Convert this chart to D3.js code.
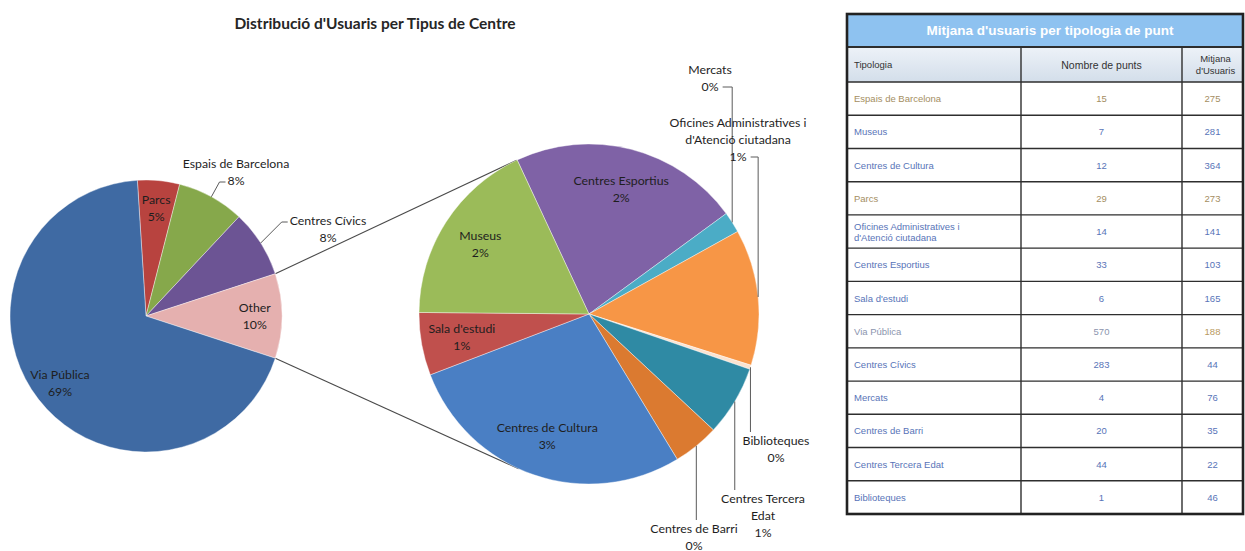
<!DOCTYPE html>
<meta charset="utf-8">
<style>
body { margin: 0; background: #fff; }
svg { display: block; background: #fff; }
text { font-family: Lato, "Open Sans", sans-serif; }
.lbl { font-size: 12.3px; fill: #1e1e1e; }
.title { font-size: 15.5px; font-weight: bold; fill: #262626; }
.tbl text { font-family: "Liberation Sans", Arial, sans-serif; font-size: 9.5px; }
</style>
<svg width="1245" height="551"></svg>
<script src="https://d3js.org/d3.v7.min.js"></script>
<script>
// main pie, clockwise from Parcs; "Other" is the sum of the detail pie
const mainNames = ["Parcs", "Espais de Barcelona", "Centres Cívics", "Other", "Via Pública"]
const mainValues = [5, 8, 8, null, 69]

// detail (second) pie, clockwise from Centres Esportius
const detailNames = ["Centres Esportius", "Mercats", "Oficines Administratives i d'Atenció ciutadana",
  "Biblioteques", "Centres Tercera Edat", "Centres de Barri", "Centres de Cultura", "Sala d'estudi", "Museus"]
const detailValues = [2.2, 0.2, 1.3, 0.04, 0.67, 0.44, 2.8, 0.6, 1.8]

// table
const tableTitle = "Mitjana d'usuaris per tipologia de punt"
const tableHeads = ["Tipologia", "Nombre de punts", "Mitjana d'Usuaris"]
const typologies = ["Espais de Barcelona", "Museus", "Centres de Cultura", "Parcs",
  "Oficines Administratives i d'Atenció ciutadana", "Centres Esportius", "Sala d'estudi", "Via Pública",
  "Centres Cívics", "Mercats", "Centres de Barri", "Centres Tercera Edat", "Biblioteques"]
const pointCounts = [15, 7, 12, 29, 14, 33, 6, 570, 283, 4, 20, 44, 1]
const meanUsers = [275, 281, 364, 273, 141, 103, 165, 188, 44, 76, 35, 22, 46]

const chartTitle = "Distribució d'Usuaris per Tipus de Centre"

// ---- styles / layout ----
const colors = {
  "Parcs": "#B8433F", "Espais de Barcelona": "#86A84B", "Centres Cívics": "#6C5494",
  "Other": "#E5B0AF", "Via Pública": "#3F6AA3",
  "Centres Esportius": "#7F62A6", "Mercats": "#4BACC6", "Oficines Administratives i d'Atenció ciutadana": "#F79646",
  "Biblioteques": "#FBE3D0", "Centres Tercera Edat": "#2F8AA4", "Centres de Barri": "#DB7A30",
  "Centres de Cultura": "#4A7FC4", "Sala d'estudi": "#C0504D", "Museus": "#9BBB59"
}

const mainPos = {x: 146, y: 316, r: 136}
const detailPos = {x: 589, y: 314, r: 170}
const detailStart = -25 * Math.PI / 180
const lineH = 17

// labels placed outside, offsets from their pie centre
const callouts = {
  "Espais de Barcelona": {dx: 90, dy: -153, lines: ["Espais de Barcelona"], leader: "side", at: 1},
  "Centres Cívics": {dx: 182, dy: -96, lines: ["Centres Cívics"], leader: "side", at: 0},
  "Mercats": {dx: 121, dy: -245, lines: ["Mercats"], leader: "above"},
  "Oficines Administratives i d'Atenció ciutadana": {dx: 149, dy: -192,
    lines: ["Oficines Administratives i", "d'Atenció ciutadana"], leader: "above"},
  "Biblioteques": {dx: 187, dy: 126, lines: ["Biblioteques"], leader: "below"},
  "Centres Tercera Edat": {dx: 174, dy: 184, lines: ["Centres Tercera", "Edat"], leader: "below"},
  "Centres de Barri": {dx: 105, dy: 214, lines: ["Centres de Barri"], leader: "below"}
}

const svg = d3.select("svg")

svg.append("text")
    .attr("class", "title")
    .attr("x", 375)
    .attr("y", 23)
    .attr("text-anchor", "middle")
    .attr("dominant-baseline", "central")
    .text(chartTitle)

const otherValue = d3.sum(detailValues)
const mainData = mainNames.map((n, i) => ({name: n, value: n === "Other" ? otherValue : mainValues[i]}))
const detailData = detailNames.map((n, i) => ({name: n, value: detailValues[i]}))
const total = d3.sum(mainData, d => d.value)
const pct = v => Math.round(v / total * 100) + "%"

// "Other" slice is centred at 3 o'clock
const otherIdx = mainNames.indexOf("Other")
const before = d3.sum(mainData.slice(0, otherIdx), d => d.value)
const mainStart = Math.PI / 2 - 2 * Math.PI * (before + otherValue / 2) / total

const mainArcs = d3.pie().sort(null).value(d => d.value)
    .startAngle(mainStart).endAngle(mainStart + 2 * Math.PI)(mainData)
const detailArcs = d3.pie().sort(null).value(d => d.value)
    .startAngle(detailStart).endAngle(detailStart + 2 * Math.PI)(detailData)

const polar = (pos, a, rr) => [pos.x + rr * Math.sin(a), pos.y - rr * Math.cos(a)]

// connector lines: from the edges of "Other" tangent to the detail pie
function tangent(p, c, side) {
  const dx = c.x - p[0], dy = c.y - p[1]
  const d = Math.hypot(dx, dy)
  const base = Math.atan2(dy, dx)
  const alpha = Math.asin(c.r / d) * side
  const len = Math.sqrt(d * d - c.r * c.r)
  return [p[0] + len * Math.cos(base + alpha), p[1] + len * Math.sin(base + alpha)]
}
const otherArc = mainArcs[otherIdx]
const p1 = polar(mainPos, otherArc.startAngle, mainPos.r)
const p2 = polar(mainPos, otherArc.endAngle, mainPos.r)
svg.append("g").selectAll("line")
  .data([[p1, tangent(p1, detailPos, -1)], [p2, tangent(p2, detailPos, 1)]])
  .join("line")
    .attr("x1", d => d[0][0]).attr("y1", d => d[0][1])
    .attr("x2", d => d[1][0]).attr("y2", d => d[1][1])
    .attr("stroke", "#4a4a4a")
    .attr("stroke-width", 1.1)

function drawPie(arcs, pos, labelFrac) {
  const g = svg.append("g").attr("transform", `translate(${pos.x},${pos.y})`)
  const arc = d3.arc().innerRadius(0).outerRadius(pos.r)
  g.selectAll("path")
    .data(arcs)
    .join("path")
      .attr("d", arc)
      .attr("fill", d => colors[d.data.name])
      .attr("stroke", "#fff")
      .attr("stroke-width", 0.4)

  const inner = arcs.filter(d => !callouts[d.data.name])
  const lg = g.selectAll("g.in")
    .data(inner)
    .join("g")
      .attr("class", "in")
      .attr("transform", d => {
        const a = (d.startAngle + d.endAngle) / 2
        return `translate(${pos.r * labelFrac * Math.sin(a)},${-pos.r * labelFrac * Math.cos(a)})`
      })
  lg.selectAll("text")
    .data(d => [d.data.name, pct(d.value)])
    .join("text")
      .attr("class", "lbl")
      .attr("text-anchor", "middle")
      .attr("dominant-baseline", "central")
      .attr("y", (d, i) => (i - 0.5) * lineH)
      .text(d => d)

  // outside labels with leader lines
  arcs.filter(d => callouts[d.data.name]).forEach(d => {
    const c = callouts[d.data.name]
    const a = (d.startAngle + d.endAngle) / 2
    const edge = polar(pos, a, pos.r)
    const lines = c.lines.concat([pct(d.value)])
    const cx = pos.x + c.dx, cy = pos.y + c.dy
    const texts = lines.map((t, i) => svg.append("text")
        .attr("class", "lbl")
        .attr("x", cx)
        .attr("y", cy + i * lineH)
        .attr("text-anchor", "middle")
        .attr("dominant-baseline", "central")
        .text(t))
    let pts
    if (c.leader === "side") {
      const b = texts[c.at].node().getBBox()
      const ay = cy + c.at * lineH + 2
      pts = [edge, [b.x - 8, ay], [b.x - 2, ay]]
    } else if (c.leader === "above") {
      const b = texts[texts.length - 1].node().getBBox()
      const ay = cy + (lines.length - 1) * lineH + 1
      pts = [[b.x + b.width + 4, ay], [edge[0], ay], edge]
    } else {
      pts = [edge, [edge[0], cy - 8]]
    }
    svg.append("path")
        .attr("d", d3.line()(pts))
        .attr("fill", "none")
        .attr("stroke", "#5a5a5a")
        .attr("stroke-width", 1)
  })
}

drawPie(mainArcs, mainPos, 0.8)
drawPie(detailArcs, detailPos, 0.76)

// ---- table ----
const tbl = svg.append("g").attr("class", "tbl")
const colX = [847, 1021, 1182, 1243]
const tTop = 14, tHead = 47, tCols = 82, tBottom = 514
const rowY = d3.scaleBand().domain(typologies).range([tCols, tBottom])

const rowColor = name => ({
  "Espais de Barcelona": "#A48E62", "Parcs": "#A48E62", "Via Pública": "#8B95AE"
})[name] || "#5874B8"

const grad = svg.append("defs").append("linearGradient")
    .attr("id", "colhead").attr("x1", 0).attr("y1", 0).attr("x2", 0).attr("y2", 1)
grad.append("stop").attr("offset", 0).attr("stop-color", "#EDF2F8")
grad.append("stop").attr("offset", 1).attr("stop-color", "#D3DEEA")

tbl.append("rect")
    .attr("x", colX[0]).attr("y", tTop)
    .attr("width", colX[3] - colX[0]).attr("height", tHead - tTop)
    .attr("fill", "#8EC2F0")
tbl.append("rect")
    .attr("x", colX[0]).attr("y", tHead)
    .attr("width", colX[3] - colX[0]).attr("height", tCols - tHead)
    .attr("fill", "url(#colhead)")

tbl.append("text")
    .attr("x", (colX[0] + colX[3]) / 2 + 5)
    .attr("y", (tTop + tHead) / 2)
    .attr("text-anchor", "middle")
    .attr("dominant-baseline", "central")
    .style("font-size", "13.5px")
    .style("font-weight", "bold")
    .attr("fill", "#fff")
    .text(tableTitle)

// column heads
const headY = (tHead + tCols) / 2
tbl.append("text")
    .attr("x", colX[0] + 7).attr("y", headY)
    .attr("dominant-baseline", "central")
    .attr("fill", "#333")
    .text(tableHeads[0])
tbl.append("text")
    .attr("x", (colX[1] + colX[2]) / 2).attr("y", headY)
    .attr("text-anchor", "middle")
    .attr("dominant-baseline", "central")
    .style("font-size", "10.5px")
    .attr("fill", "#333")
    .text(tableHeads[1])
tbl.append("g").selectAll("text")
  .data(["Mitjana", "d'Usuaris"])
  .join("text")
    .attr("x", (colX[2] + colX[3]) / 2 + 3)
    .attr("y", (d, i) => headY + (i - 0.5) * 12)
    .attr("text-anchor", "middle")
    .attr("dominant-baseline", "central")
    .attr("fill", "#333")
    .text(d => d)

// rows
const rows = tbl.append("g").selectAll("g")
  .data(typologies.map((t, i) => ({name: t, n: pointCounts[i], m: meanUsers[i]})))
  .join("g")
    .attr("transform", d => `translate(0,${rowY(d.name) + rowY.bandwidth() / 2})`)

rows.each(function(d) {
  const g = d3.select(this)
  const col = rowColor(d.name)
  const parts = d.name.length > 30 ? ["Oficines Administratives i", "d'Atenció ciutadana"] : [d.name]
  parts.forEach((p, i) => {
    g.append("text")
        .attr("x", colX[0] + 7)
        .attr("y", (i - (parts.length - 1) / 2) * 11)
        .attr("dominant-baseline", "central")
        .attr("fill", col)
        .text(p)
  })
  g.append("text")
      .attr("x", (colX[1] + colX[2]) / 2)
      .attr("text-anchor", "middle")
      .attr("dominant-baseline", "central")
      .attr("fill", col)
      .text(d.n)
  g.append("text")
      .attr("x", (colX[2] + colX[3]) / 2)
      .attr("text-anchor", "middle")
      .attr("dominant-baseline", "central")
      .attr("fill", d.name === "Via Pública" ? "#B99A5E" : col)
      .text(d.m)
})

// grid lines
const hLines = [tHead, tCols].concat(typologies.slice(1).map(t => rowY(t)))
tbl.append("g").selectAll("line")
  .data(hLines)
  .join("line")
    .attr("x1", colX[0]).attr("x2", colX[3])
    .attr("y1", d => d).attr("y2", d => d)
    .attr("stroke", "#2e2e2e")
    .attr("stroke-width", d => d === tHead ? 2 : 1.4)
tbl.append("g").selectAll("line")
  .data([colX[1], colX[2]])
  .join("line")
    .attr("x1", d => d).attr("x2", d => d)
    .attr("y1", tHead).attr("y2", tBottom)
    .attr("stroke", "#2e2e2e")
    .attr("stroke-width", 1.4)
tbl.append("rect")
    .attr("x", colX[0]).attr("y", tTop)
    .attr("width", colX[3] - colX[0]).attr("height", tBottom - tTop)
    .attr("fill", "none")
    .attr("stroke", "#222")
    .attr("stroke-width", 2.6)
</script>
